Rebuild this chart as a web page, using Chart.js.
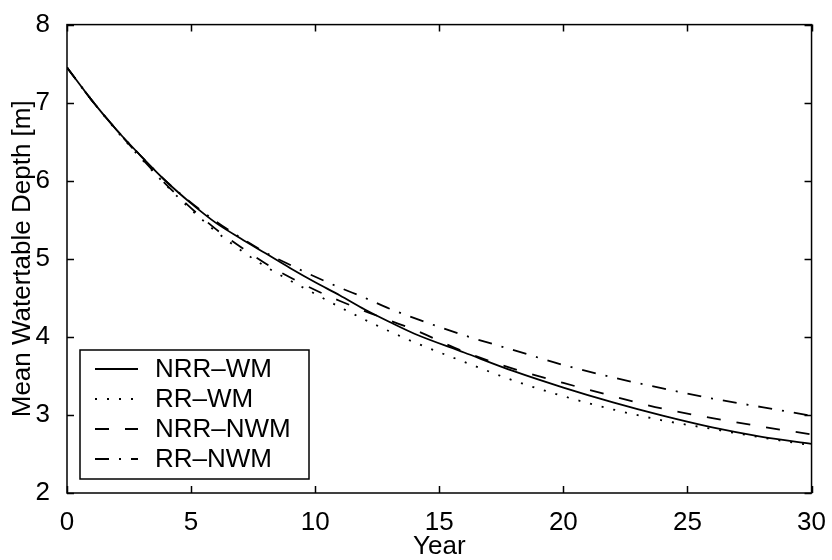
<!DOCTYPE html>
<html>
<head>
<meta charset="utf-8">
<script src="https://cdn.jsdelivr.net/npm/chart.js@4"></script>
<style>
  html, body { margin: 0; padding: 0; background: #fff; }
  #wrap { width: 832px; height: 560px; }
</style>
</head>
<body>
<div id="wrap"><canvas id="depthChart"></canvas></div>
<script>
// simulation years and mean watertable depth [m] for each scenario
const years   = [0, 1, 2, 3, 4, 5, 6, 7, 8, 9, 10, 11, 12, 13, 14, 16, 18, 20, 22, 24, 26, 28, 30];
const nrrWm   = [7.45, 7.03, 6.65, 6.31, 5.99, 5.71, 5.46, 5.26, 5.07, 4.88, 4.70, 4.53, 4.35, 4.19, 4.04, 3.80, 3.56, 3.35, 3.16, 2.99, 2.84, 2.72, 2.63];
const rrWm    = [7.45, 7.03, 6.64, 6.28, 5.94, 5.63, 5.35, 5.11, 4.90, 4.72, 4.55, 4.38, 4.22, 4.07, 3.93, 3.68, 3.44, 3.24, 3.07, 2.93, 2.82, 2.71, 2.61];
const nrrNwm  = [7.45, 7.03, 6.65, 6.29, 5.95, 5.65, 5.38, 5.15, 4.94, 4.76, 4.60, 4.46, 4.33, 4.21, 4.09, 3.81, 3.59, 3.41, 3.24, 3.08, 2.96, 2.85, 2.75];
const rrNwm   = [7.45, 7.03, 6.65, 6.31, 5.99, 5.72, 5.48, 5.27, 5.08, 4.92, 4.77, 4.63, 4.50, 4.36, 4.24, 4.02, 3.83, 3.64, 3.48, 3.34, 3.21, 3.10, 2.99];
const seriesNames = ['NRR\u2013WM', 'RR\u2013WM', 'NRR\u2013NWM', 'RR\u2013NWM'];
const xTicks = { min: 0, max: 30, step: 5 };
const yTicks = { min: 2, max: 8, step: 1 };

const FONT = '"Liberation Sans", Arial, Helvetica, sans-serif';
Chart.defaults.font.family = FONT;
Chart.defaults.color = '#000';

const toPoints = vals => years.map((yr, i) => ({ x: yr, y: vals[i] }));

function lineSet(label, vals, dash) {
  return {
    label,
    data: toPoints(vals),
    borderColor: '#000',
    borderWidth: 1.8,
    borderDash: dash,
    pointRadius: 0,
    fill: false,
    cubicInterpolationMode: 'monotone'
  };
}

// box around the plot with inward ticks on all four sides
const frameTicks = {
  id: 'frameTicks',
  afterDatasetsDraw(chart) {
    const { ctx, chartArea: a, scales: { x, y } } = chart;
    const len = 7;
    ctx.save();
    ctx.strokeStyle = '#000';
    ctx.lineWidth = 1.5;
    ctx.setLineDash([]);
    ctx.strokeRect(a.left, a.top, a.right - a.left, a.bottom - a.top);
    ctx.beginPath();
    x.ticks.forEach(t => {
      const px = Math.round(x.getPixelForValue(t.value)) + 0.5;
      ctx.moveTo(px, a.bottom); ctx.lineTo(px, a.bottom - len);
      ctx.moveTo(px, a.top);    ctx.lineTo(px, a.top + len);
    });
    y.ticks.forEach(t => {
      const py = Math.round(y.getPixelForValue(t.value)) + 0.5;
      ctx.moveTo(a.left, py);  ctx.lineTo(a.left + len, py);
      ctx.moveTo(a.right, py); ctx.lineTo(a.right - len, py);
    });
    ctx.stroke();
    ctx.restore();
  }
};

// boxed legend in the lower left corner of the plot
const boxLegend = {
  id: 'boxLegend',
  afterDraw(chart) {
    const { ctx } = chart;
    const bx = 80, by = 350, bw = 229, bh = 129;
    ctx.save();
    ctx.fillStyle = '#fff';
    ctx.fillRect(bx, by, bw, bh);
    ctx.strokeStyle = '#000';
    ctx.lineWidth = 1.5;
    ctx.strokeRect(bx, by, bw, bh);
    ctx.font = '26px ' + FONT;
    ctx.textBaseline = 'middle';
    ctx.fillStyle = '#000';
    chart.data.datasets.forEach((ds, i) => {
      const ly = by + 19 + i * 30;
      ctx.beginPath();
      ctx.lineWidth = ds.borderWidth;
      ctx.setLineDash(ds.borderDash || []);
      ctx.moveTo(bx + 15, ly);
      ctx.lineTo(bx + 58, ly);
      ctx.stroke();
      ctx.setLineDash([]);
      ctx.fillText(ds.label, bx + 75, ly + 1);
    });
    ctx.restore();
  }
};

new Chart(document.getElementById('depthChart'), {
  type: 'line',
  data: {
    datasets: [
      lineSet(seriesNames[0], nrrWm, []),
      lineSet(seriesNames[1], rrWm, [2, 10]),
      lineSet(seriesNames[2], nrrNwm, [14, 16]),
      lineSet(seriesNames[3], rrNwm, [14, 10, 2, 10])
    ]
  },
  options: {
    responsive: true,
    maintainAspectRatio: false,
    animation: false,
    layout: { padding: { top: 19, right: 19, left: 0, bottom: 0 } },
    plugins: { legend: { display: false }, tooltip: { enabled: false } },
    scales: {
      x: {
        type: 'linear',
        min: xTicks.min, max: xTicks.max,
        grid: { display: false },
        border: { display: false },
        ticks: { stepSize: xTicks.step, padding: 6, color: '#000', font: { size: 26 } },
        title: { display: true, text: 'Year', color: '#000', font: { size: 26, lineHeight: 1 }, padding: 0 },
        afterFit(scale) { scale.height = 67; }
      },
      y: {
        min: yTicks.min, max: yTicks.max,
        grid: { display: false },
        border: { display: false },
        ticks: { stepSize: yTicks.step, padding: 9, color: '#000', font: { size: 26 } },
        title: { display: true, text: 'Mean Watertable Depth [m]', color: '#000', font: { size: 26, lineHeight: 1 }, padding: { top: 10, bottom: 0 } },
        afterFit(scale) { scale.width = 67; }
      }
    }
  },
  plugins: [frameTicks, boxLegend]
});
</script>
</body>
</html>
